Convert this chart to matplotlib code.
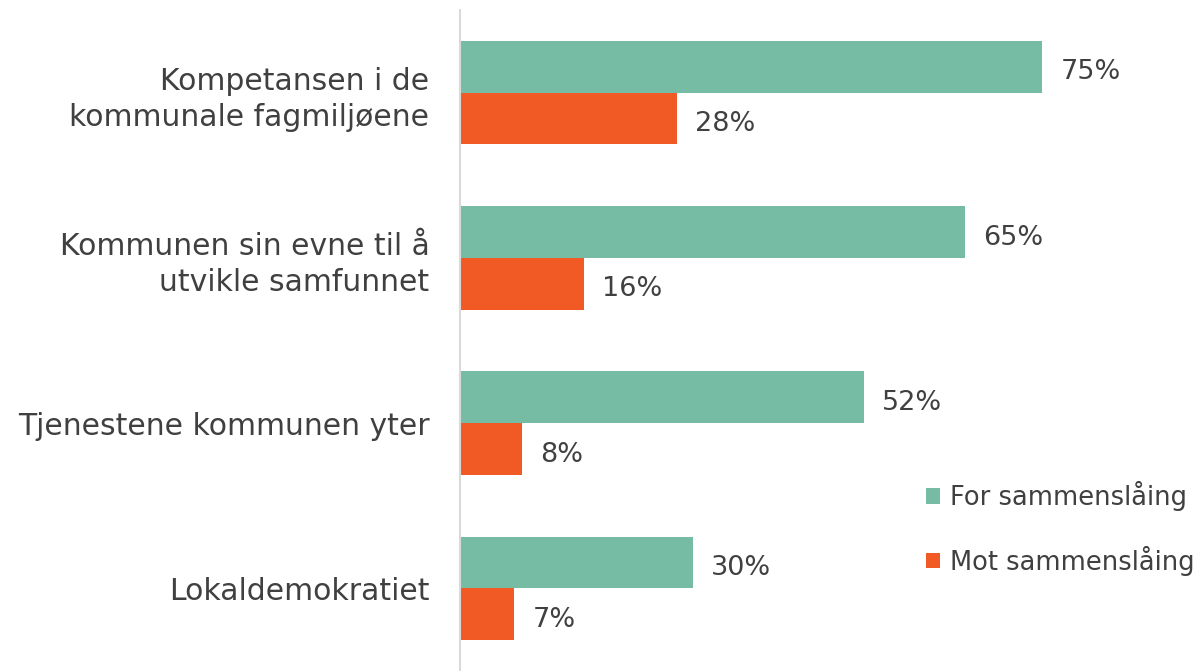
import matplotlib
matplotlib.use("Agg")
import matplotlib.pyplot as plt
import numpy as np

categories = [
    "Kompetansen i de\nkommunale fagmiljøene",
    "Kommunen sin evne til å\nutvikle samfunnet",
    "Tjenestene kommunen yter",
    "Lokaldemokratiet",
]
for_vals = [75, 65, 52, 30]
mot_vals = [28, 16, 8, 7]
series_names = ["For sammenslåing", "Mot sammenslåing"]

TEAL = "#76BCA4"
ORANGE = "#F15A24"
TEXT = "#404040"

plt.rcParams["font.family"] = ["DejaVu Sans"]

fig = plt.figure(figsize=(12.03, 6.71), dpi=100)
ax = fig.add_axes([460 / 1203, 0, 1 - 460 / 1203, 1 - 10 / 671])

y = np.arange(len(categories))
h = 0.313
b1 = ax.barh(y - h / 2, for_vals, height=h, color=TEAL, label=series_names[0])
b2 = ax.barh(y + h / 2, mot_vals, height=h, color=ORANGE, label=series_names[1])

for bars, vals in ((b1, for_vals), (b2, mot_vals)):
    for bar, v in zip(bars, vals):
        ax.annotate(f"{v}%", (bar.get_width(), bar.get_y() + bar.get_height() / 2),
                    xytext=(13, -4), textcoords="offset points",
                    va="center", ha="left", fontsize=19.5, color=TEXT)

ax.set_xlim(0, 95.7)
ax.set_ylim(len(categories) - 0.5, -0.5)
ax.set_yticks(y)
ax.set_yticklabels(categories, fontsize=21.5, color=TEXT, linespacing=1.3)
ax.tick_params(axis="y", length=0, pad=22)
ax.set_xticks([])
for s in ("top", "right", "bottom"):
    ax.spines[s].set_visible(False)
ax.spines["left"].set_color("#D9D9D9")
ax.spines["left"].set_linewidth(1.5)

fig.legend(handles=[b1, b2], loc="upper left", bbox_to_anchor=(913 / 1203, 1 - 468 / 671),
           frameon=False, fontsize=18.5, labelcolor=TEXT, handlelength=0.55, handleheight=0.55,
           handletextpad=0.4, labelspacing=1.35, borderpad=0)

fig.savefig("out.png", dpi=100)
